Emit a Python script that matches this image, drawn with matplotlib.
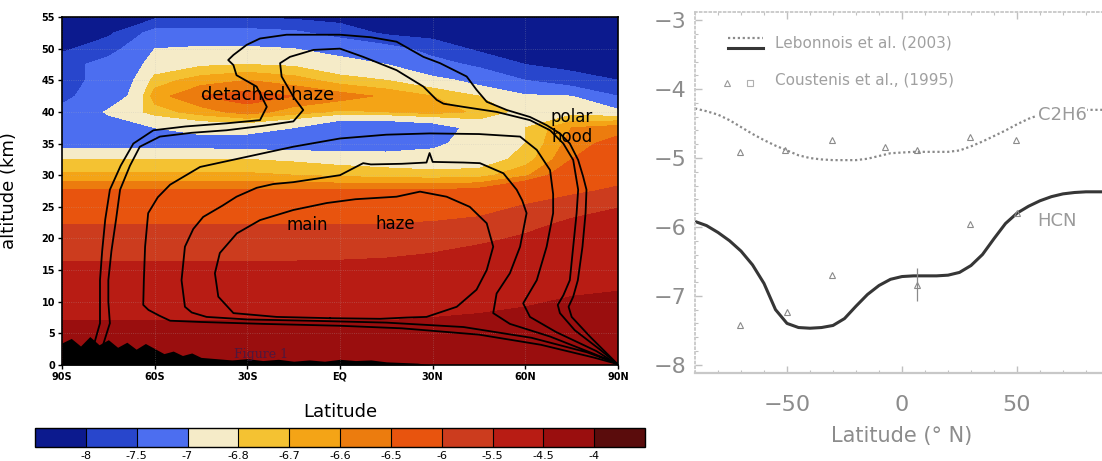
import numpy as np
import matplotlib
matplotlib.use("Agg")
import matplotlib.pyplot as plt
from matplotlib.ticker import MultipleLocator

# ---------------- left panel : mixing-ratio field (log10) ----------------
lat_nodes = [-90, -75, -60, -45, -30, -15, 0, 15, 30, 45, 60, 75, 90]
alt_nodes = [0, 2.5, 5, 7.5, 10, 12.5, 15, 17.5, 20, 22.5, 25, 27.5, 30,
             32.5, 35, 37.5, 40, 42.5, 45, 47.5, 50, 52.5, 55]
log_field = [
    [-4.20, -4.20, -4.20, -4.20, -4.20, -4.20, -4.20, -4.20, -4.20, -4.20, -4.20, -4.20, -4.20],
    [-4.25, -4.25, -4.25, -4.25, -4.25, -4.25, -4.25, -4.25, -4.25, -4.25, -4.25, -4.25, -4.25],
    [-4.32, -4.32, -4.32, -4.32, -4.32, -4.32, -4.32, -4.32, -4.32, -4.32, -4.30, -4.28, -4.28],
    [-4.55, -4.55, -4.55, -4.55, -4.55, -4.55, -4.55, -4.55, -4.50, -4.45, -4.40, -4.35, -4.35],
    [-4.80, -4.80, -4.80, -4.80, -4.80, -4.80, -4.80, -4.80, -4.75, -4.65, -4.55, -4.45, -4.40],
    [-5.00, -5.00, -5.00, -5.00, -5.00, -5.00, -5.00, -5.00, -4.95, -4.85, -4.70, -4.60, -4.55],
    [-5.30, -5.30, -5.30, -5.30, -5.30, -5.30, -5.30, -5.25, -5.15, -5.05, -4.90, -4.80, -4.70],
    [-5.65, -5.65, -5.65, -5.65, -5.65, -5.65, -5.62, -5.58, -5.48, -5.32, -5.12, -4.98, -4.88],
    [-5.82, -5.82, -5.82, -5.82, -5.82, -5.82, -5.80, -5.77, -5.72, -5.62, -5.42, -5.22, -5.08],
    [-6.03, -6.03, -6.03, -6.03, -6.03, -6.03, -6.03, -6.02, -5.98, -5.88, -5.68, -5.42, -5.28],
    [-6.30, -6.30, -6.30, -6.30, -6.30, -6.30, -6.30, -6.30, -6.28, -6.20, -5.95, -5.72, -5.52],
    [-6.48, -6.48, -6.48, -6.48, -6.48, -6.48, -6.48, -6.48, -6.48, -6.45, -6.30, -6.10, -5.90],
    [-6.68, -6.68, -6.68, -6.68, -6.68, -6.70, -6.72, -6.74, -6.75, -6.74, -6.62, -6.38, -6.22],
    [-6.80, -6.80, -6.80, -6.80, -6.80, -6.82, -6.85, -6.87, -6.90, -6.88, -6.75, -6.50, -6.40],
    [-7.10, -7.10, -7.10, -7.10, -7.12, -7.15, -7.15, -7.15, -7.05, -6.90, -6.80, -6.55, -6.45],
    [-7.30, -7.20, -7.00, -6.92, -6.92, -7.00, -7.25, -7.25, -7.15, -6.90, -6.80, -6.60, -6.55],
    [-7.40, -6.95, -6.75, -6.65, -6.55, -6.65, -6.72, -6.70, -6.65, -6.72, -6.85, -6.85, -6.90],
    [-7.60, -7.25, -6.65, -6.50, -6.45, -6.50, -6.55, -6.62, -6.70, -6.80, -6.95, -7.00, -7.50],
    [-7.70, -7.30, -6.75, -6.65, -6.60, -6.65, -6.75, -6.80, -6.90, -7.10, -7.50, -7.80, -8.00],
    [-7.70, -7.30, -6.90, -6.82, -6.80, -6.82, -6.90, -7.00, -7.30, -7.60, -8.00, -8.15, -8.20],
    [-8.10, -7.70, -7.00, -6.95, -6.95, -7.00, -7.10, -7.30, -7.70, -8.10, -8.20, -8.30, -8.30],
    [-8.20, -8.10, -7.30, -7.30, -7.30, -7.40, -7.70, -8.10, -8.20, -8.30, -8.30, -8.30, -8.30],
    [-8.30, -8.30, -8.10, -8.05, -8.05, -8.10, -8.20, -8.30, -8.30, -8.30, -8.30, -8.30, -8.30],
]

levels = [-8.5, -8, -7.5, -7, -6.8, -6.7, -6.6, -6.5, -6, -5.5, -4.5, -4, -3.5]
level_colors = ['#0c1a8e', '#2846cc', '#4c6ef0', '#f5ebc8', '#f4c232', '#f4a416',
                '#ec7c0e', '#e8540e', '#cc3c1e', '#b81c14', '#9a0e0e', '#5a0c0c']
cbar_labels = ['-8', '-7.5', '-7', '-6.8', '-6.7', '-6.6', '-6.5', '-6', '-5.5', '-4.5', '-4']

lat_ticks = [-90, -60, -30, 0, 30, 60, 90]
lat_ticklabels = ['90S', '60S', '30S', 'EQ', '30N', '60N', '90N']
alt_ticks = [0, 5, 10, 15, 20, 25, 30, 35, 40, 45, 50, 55]

# dense near-ground contour bundle (black)
ground_lat = [-90, -87, -84, -81, -78, -75, -72, -69, -66, -63, -60, -57, -54, -51, -48,
              -45, -40, -35, -30, -25, -20, -15, -10, -5, 0, 5, 10, 15, 20, 25, 30]
ground_top = [3.5, 4.2, 3.0, 4.5, 3.2, 4.0, 2.8, 3.6, 2.5, 3.4, 2.6, 1.8, 2.2, 1.5, 1.9,
              1.2, 1.0, 0.8, 1.0, 0.7, 0.9, 0.6, 0.8, 0.6, 0.9, 0.7, 0.8, 0.5, 0.4, 0.3, 0.0]

# stream-function contour lines (lat, alt)
line1_lat = [-82, -79.5, -77.7, -77.7, -77.7, -77, -76, -74.5, -71, -66.9, -60.4, -50, -36.7,
             -25.9, -23.7, -27, -33.5, -34.5, -36.2, -34.5, -30.2, -25.9, -17.3, 0, 10, 18.3,
             27, 32.4, 41, 44.2, 47.5, 54, 61.5, 66.9, 71.2, 74.4, 77.1, 78.7, 79.8, 79.5,
             78.5, 77, 75.5, 74, 75, 80.9, 88.5, 90]
line1_alt = [0.3, 3.5, 6.6, 10, 13.4, 18, 23, 27.7, 31.5, 35.0, 37.1, 37.7, 38.2,
             38.7, 40.8, 44.0, 45.8, 47.4, 48.2, 49.0, 50.6, 51.6, 52.2, 52.2, 51.8, 51.1,
             48.7, 47.7, 45.6, 43.5, 41.6, 40.3, 39.2, 37.9, 36.6, 35.0, 32.4, 29.8, 27.7, 24.0,
             18.7, 13.4, 10.8, 9.2, 7.6, 4.5, 0.8, 0.0]
line2_lat = [-78.5, -76.5, -74.5, -75, -75, -74, -72.5, -71.2, -68, -64.8, -58.3, -48, -36.7,
             -25, -15.1, -11.9, -15.1, -18.9, -19.4, -16.2, -8.6, 0, 7.5, 18.3, 27, 31.3,
             33.5, 39.9, 50.7, 61.5, 68, 72.3, 75.5, 77.1, 76.6, 75.5, 74.4, 72.3, 70.5,
             71.2, 76, 84, 89.5]
line2_alt = [0.3, 3.5, 6.6, 10, 13.4, 18, 23, 27.7, 31.5, 34.5, 36.1, 36.7, 37.1,
             37.8, 38.5, 40.3, 42.4, 45.6, 47.7, 48.7, 49.8, 50.0, 48.7, 46.6, 44.0, 41.9,
             41.3, 40.8, 40.0, 38.7, 37.1, 35.0, 32.4, 27.7, 24.0, 18.7, 13.4, 11.0, 9.5,
             8.2, 5.5, 2.5, 0.3]
line3_lat = [89.5, 82, 65, 45, 20, 0, -25, -45, -55, -58.5, -62, -63.7, -63.5, -63.1, -62.1,
             -59, -55, -45.3, -30.2, -15.1, 0, 15, 29, 45, 58.3, 63.7, 68, 69, 69, 66.9,
             63.7, 59.3, 61.5, 70, 83, 89.5]
line3_alt = [0.2, 1.2, 3.2, 4.8, 5.8, 6.2, 6.5, 6.8, 7.0, 7.8, 8.7, 9.5, 13.4, 18.7, 24.0,
             26.5, 28.5, 31.3, 32.9, 34.5, 35.8, 36.4, 36.6, 36.5, 36.1, 34.0, 30.8, 27.0, 24.0, 18.7,
             13.4, 9.75, 7.6, 5.2, 2.2, 0.2]
line4_lat = [89.5, 80, 62, 40, 15, -10, -30, -43.2, -48, -50.2, -51.3, -50.2, -47.5, -44.3,
             -38, -33.5, -27, -21.6, -15.1, 0, 7.5, 10, 20, 28, 29, 30, 40, 45.3, 52.9, 57.2,
             59, 60.4, 58.3, 55, 50.7, 49.6, 55, 68, 82, 89.5]
line4_alt = [0.3, 2.0, 4.3, 6.0, 6.7, 7.0, 7.2, 7.6, 8.3, 9.2, 13.4, 18.7, 21.5, 23.4,
             25.2, 26.6, 28.0, 28.6, 28.9, 30.0, 31.9, 31.7, 31.8, 32.0, 33.5, 32.1, 32.0, 31.9, 30.3, 27.7,
             26.0, 24.0, 18.7, 14.5, 11.3, 8.2, 6.5, 4.5, 1.8, 0.3]
line5_lat = [-3.2, -20.5, -34.5, -39.4, -40.5, -38.9, -33.4, -25.9, -15.1, -4.3, 5, 18.3,
             25.9, 34.5, 42, 47.5, 49.6, 47.5, 44.2, 37.8, 28, 21.6, 13, -3.2]
line5_alt = [7.4, 7.6, 8.2, 10.8, 14.5, 17.7, 20.8, 22.9, 24.5, 25.6, 26.2, 26.6,
             27.4, 26.6, 25.0, 22.4, 18.7, 15.0, 11.9, 9.2, 7.6, 7.5, 7.3, 7.4]

# ---------------- right panel : latitudinal profiles ----------------
model_lat = [-90, -85, -80, -75, -70, -65, -60, -55, -50, -45, -40, -35, -30, -25, -20,
             -15, -10, -5, 0, 5, 10, 15, 20, 25, 30, 35, 40, 45, 50, 55, 60, 65, 70,
             75, 80, 85, 90]
c2h6_model = [-4.28, -4.32, -4.37, -4.45, -4.55, -4.65, -4.74, -4.82, -4.89, -4.96, -5.00,
              -5.02, -5.03, -5.03, -5.03, -5.01, -4.97, -4.93, -4.92, -4.91, -4.91, -4.91,
              -4.91, -4.89, -4.83, -4.76, -4.68, -4.60, -4.51, -4.43, -4.37, -4.33, -4.31,
              -4.30, -4.30, -4.30, -4.30]
hcn_model = [-5.92, -5.98, -6.08, -6.20, -6.35, -6.55, -6.82, -7.20, -7.40, -7.46, -7.47,
             -7.46, -7.43, -7.33, -7.15, -6.98, -6.85, -6.76, -6.72, -6.71, -6.71, -6.71,
             -6.70, -6.66, -6.56, -6.40, -6.17, -5.95, -5.80, -5.70, -5.62, -5.56, -5.52,
             -5.50, -5.49, -5.49, -5.49]
c2h6_obs_lat = [-70.4, -50.9, -30.6, -7.4, 6.4, 29.6, 49.4]
c2h6_obs = [-4.91, -4.88, -4.74, -4.84, -4.88, -4.69, -4.74]
hcn_obs_lat = [-70.4, -50.1, -30.6, 6.4, 29.6, 49.8]
hcn_obs = [-7.42, -7.23, -6.70, -6.84, -5.95, -5.80]
hcn_err_lat = [6.4]
hcn_err_val = [-6.84]
hcn_err = [0.24]

# ======================= figure =======================
W, H = 1102, 461
fig = plt.figure(figsize=(W / 100, H / 100), dpi=100)
fig.patch.set_facecolor('white')

def fx(px):
    return px / W

def fy(py):
    return 1 - py / H

# ---- left panel ----
ax = fig.add_axes([fx(62), fy(365), fx(618) - fx(62), fy(17) - fy(365)])
cf = ax.contourf(lat_nodes, alt_nodes, np.array(log_field), levels=levels,
                 colors=level_colors, zorder=1)
ax.fill_between(ground_lat, 0, ground_top, color='black', lw=0, zorder=2)
for la, al in [(line1_lat, line1_alt), (line2_lat, line2_alt), (line3_lat, line3_alt),
               (line4_lat, line4_alt), (line5_lat, line5_alt)]:
    ax.plot(la, al, color='black', lw=1.3, zorder=3, solid_joinstyle='round')
ax.set_xlim(-90, 90)
ax.set_ylim(0, 55)
ax.set_xticks(lat_ticks)
ax.set_xticklabels(lat_ticklabels)
ax.set_yticks(alt_ticks)
ax.tick_params(direction='out', length=3, width=1, labelsize=7, pad=2)
for lbl in ax.get_xticklabels() + ax.get_yticklabels():
    lbl.set_fontweight('bold')
ax.grid(True, color='#b8b8b8', linestyle=':', linewidth=0.6, alpha=0.35, zorder=2.5)
ax.set_axisbelow(False)
for sp in ax.spines.values():
    sp.set_linewidth(1.2)
    sp.set_zorder(5)
ax.set_ylabel('altitude (km)', fontsize=13)
ax.yaxis.set_label_coords(-0.079, 0.5)
ax.set_xlabel('Latitude', fontsize=13)
ax.xaxis.set_label_coords(0.5, -0.11)
ax.text(-23.3, 42.6, 'detached haze', fontsize=13, ha='center', va='center', zorder=6)
ax.text(75.1, 39.2, 'polar', fontsize=12, ha='center', va='center', zorder=6)
ax.text(75.1, 36.0, 'hood', fontsize=12, ha='center', va='center', zorder=6)
ax.text(-10.7, 22.1, 'main', fontsize=12, ha='center', va='center', zorder=6)
ax.text(17.9, 22.3, 'haze', fontsize=12, ha='center', va='center', zorder=6)
ax.text(-25.6, 1.6, 'Figure 1', fontsize=9, ha='center', va='center', color='#3a1a4a',
        family='DejaVu Serif', alpha=0.8, zorder=6)

# ---- colorbar ----
cax = fig.add_axes([fx(35), fy(447), fx(645) - fx(35), fy(428) - fy(447)])
cb = fig.colorbar(cf, cax=cax, orientation='horizontal', spacing='uniform',
                  ticks=levels[1:-1], drawedges=True)
cb.ax.set_xticklabels(cbar_labels)
cb.ax.tick_params(length=0, labelsize=8, pad=3)
cb.outline.set_linewidth(1.0)
cb.dividers.set_linewidth(0.8)
cb.dividers.set_color('black')

# ---- right panel ----
gray_txt = '#8c8c8c'
ax2 = fig.add_axes([fx(695), fy(373), fx(1109) - fx(695), fy(12) - fy(373)])
ax2.plot(model_lat, c2h6_model, color='#8a8a8a', lw=1.6, linestyle=(0, (1, 1.2)), zorder=2)
ax2.plot(model_lat, hcn_model, color='#363636', lw=2.2, zorder=2)
ax2.plot(c2h6_obs_lat, c2h6_obs, linestyle='none', marker='^', ms=5, mfc='none',
         mec='#8a8a8a', mew=0.8, zorder=3)
ax2.plot(hcn_obs_lat, hcn_obs, linestyle='none', marker='^', ms=5, mfc='none',
         mec='#8a8a8a', mew=0.8, zorder=3)
ax2.errorbar(hcn_err_lat, hcn_err_val, yerr=hcn_err, fmt='none', ecolor='#8a8a8a',
             elinewidth=0.9, capsize=0, zorder=3)
ax2.set_xlim(-90, 90)
ax2.set_ylim(-8.12, -2.88)
ax2.set_xticks([-50, 0, 50])
ax2.set_yticks([-8, -7, -6, -5, -4, -3])
ax2.xaxis.set_minor_locator(MultipleLocator(10))
ax2.yaxis.set_minor_locator(MultipleLocator(0.2))
ax2.tick_params(which='both', direction='in', color='#c0c0c0', labelcolor=gray_txt,
                top=True, right=False)
ax2.tick_params(which='major', length=5, width=1)
ax2.tick_params(which='minor', length=2.5, width=0.8)
ax2.tick_params(axis='x', labelsize=16, pad=16)
ax2.tick_params(axis='y', labelsize=16, pad=6)
for name in ['left', 'top']:
    ax2.spines[name].set_color('#c8c8c8')
    ax2.spines[name].set_linestyle(':')
    ax2.spines[name].set_linewidth(1.3)
ax2.spines['bottom'].set_color('#c8c8c8')
ax2.spines['bottom'].set_linewidth(1.6)
ax2.spines['right'].set_visible(False)
ax2.set_xlabel('Latitude (° N)', fontsize=15, color=gray_txt, labelpad=8)
ax2.text(69.6, -4.38, 'C2H6', fontsize=13, color='#9a9a9a', ha='center', va='center',
         bbox=dict(facecolor='white', edgecolor='none', pad=0.5), zorder=4)
ax2.text(67.4, -5.92, 'HCN', fontsize=13, color='#9a9a9a', ha='center', va='center', zorder=4)

# legend (drawn in axes fraction)
tr = ax2.transAxes
ax2.plot([0.080, 0.164], [0.928, 0.928], transform=tr, color='#8a8a8a', lw=1.6,
         linestyle=(0, (1, 1.2)))
ax2.plot([0.080, 0.164], [0.900, 0.900], transform=tr, color='#363636', lw=2.2)
ax2.text(0.193, 0.914, 'Lebonnois et al. (2003)', transform=tr, fontsize=11,
         color='#a0a0a0', va='center', ha='left')
ax2.plot([0.077], [0.803], transform=tr, marker='^', ms=5, mfc='none', mec='#9a9a9a',
         mew=0.8, linestyle='none')
ax2.plot([0.133], [0.803], transform=tr, marker='s', ms=5, mfc='none', mec='#b0b0b0',
         mew=0.8, linestyle='none')
ax2.text(0.193, 0.812, 'Coustenis et al., (1995)', transform=tr, fontsize=11,
         color='#a0a0a0', va='center', ha='left')

fig.savefig('out.png', dpi=100, facecolor='white')
